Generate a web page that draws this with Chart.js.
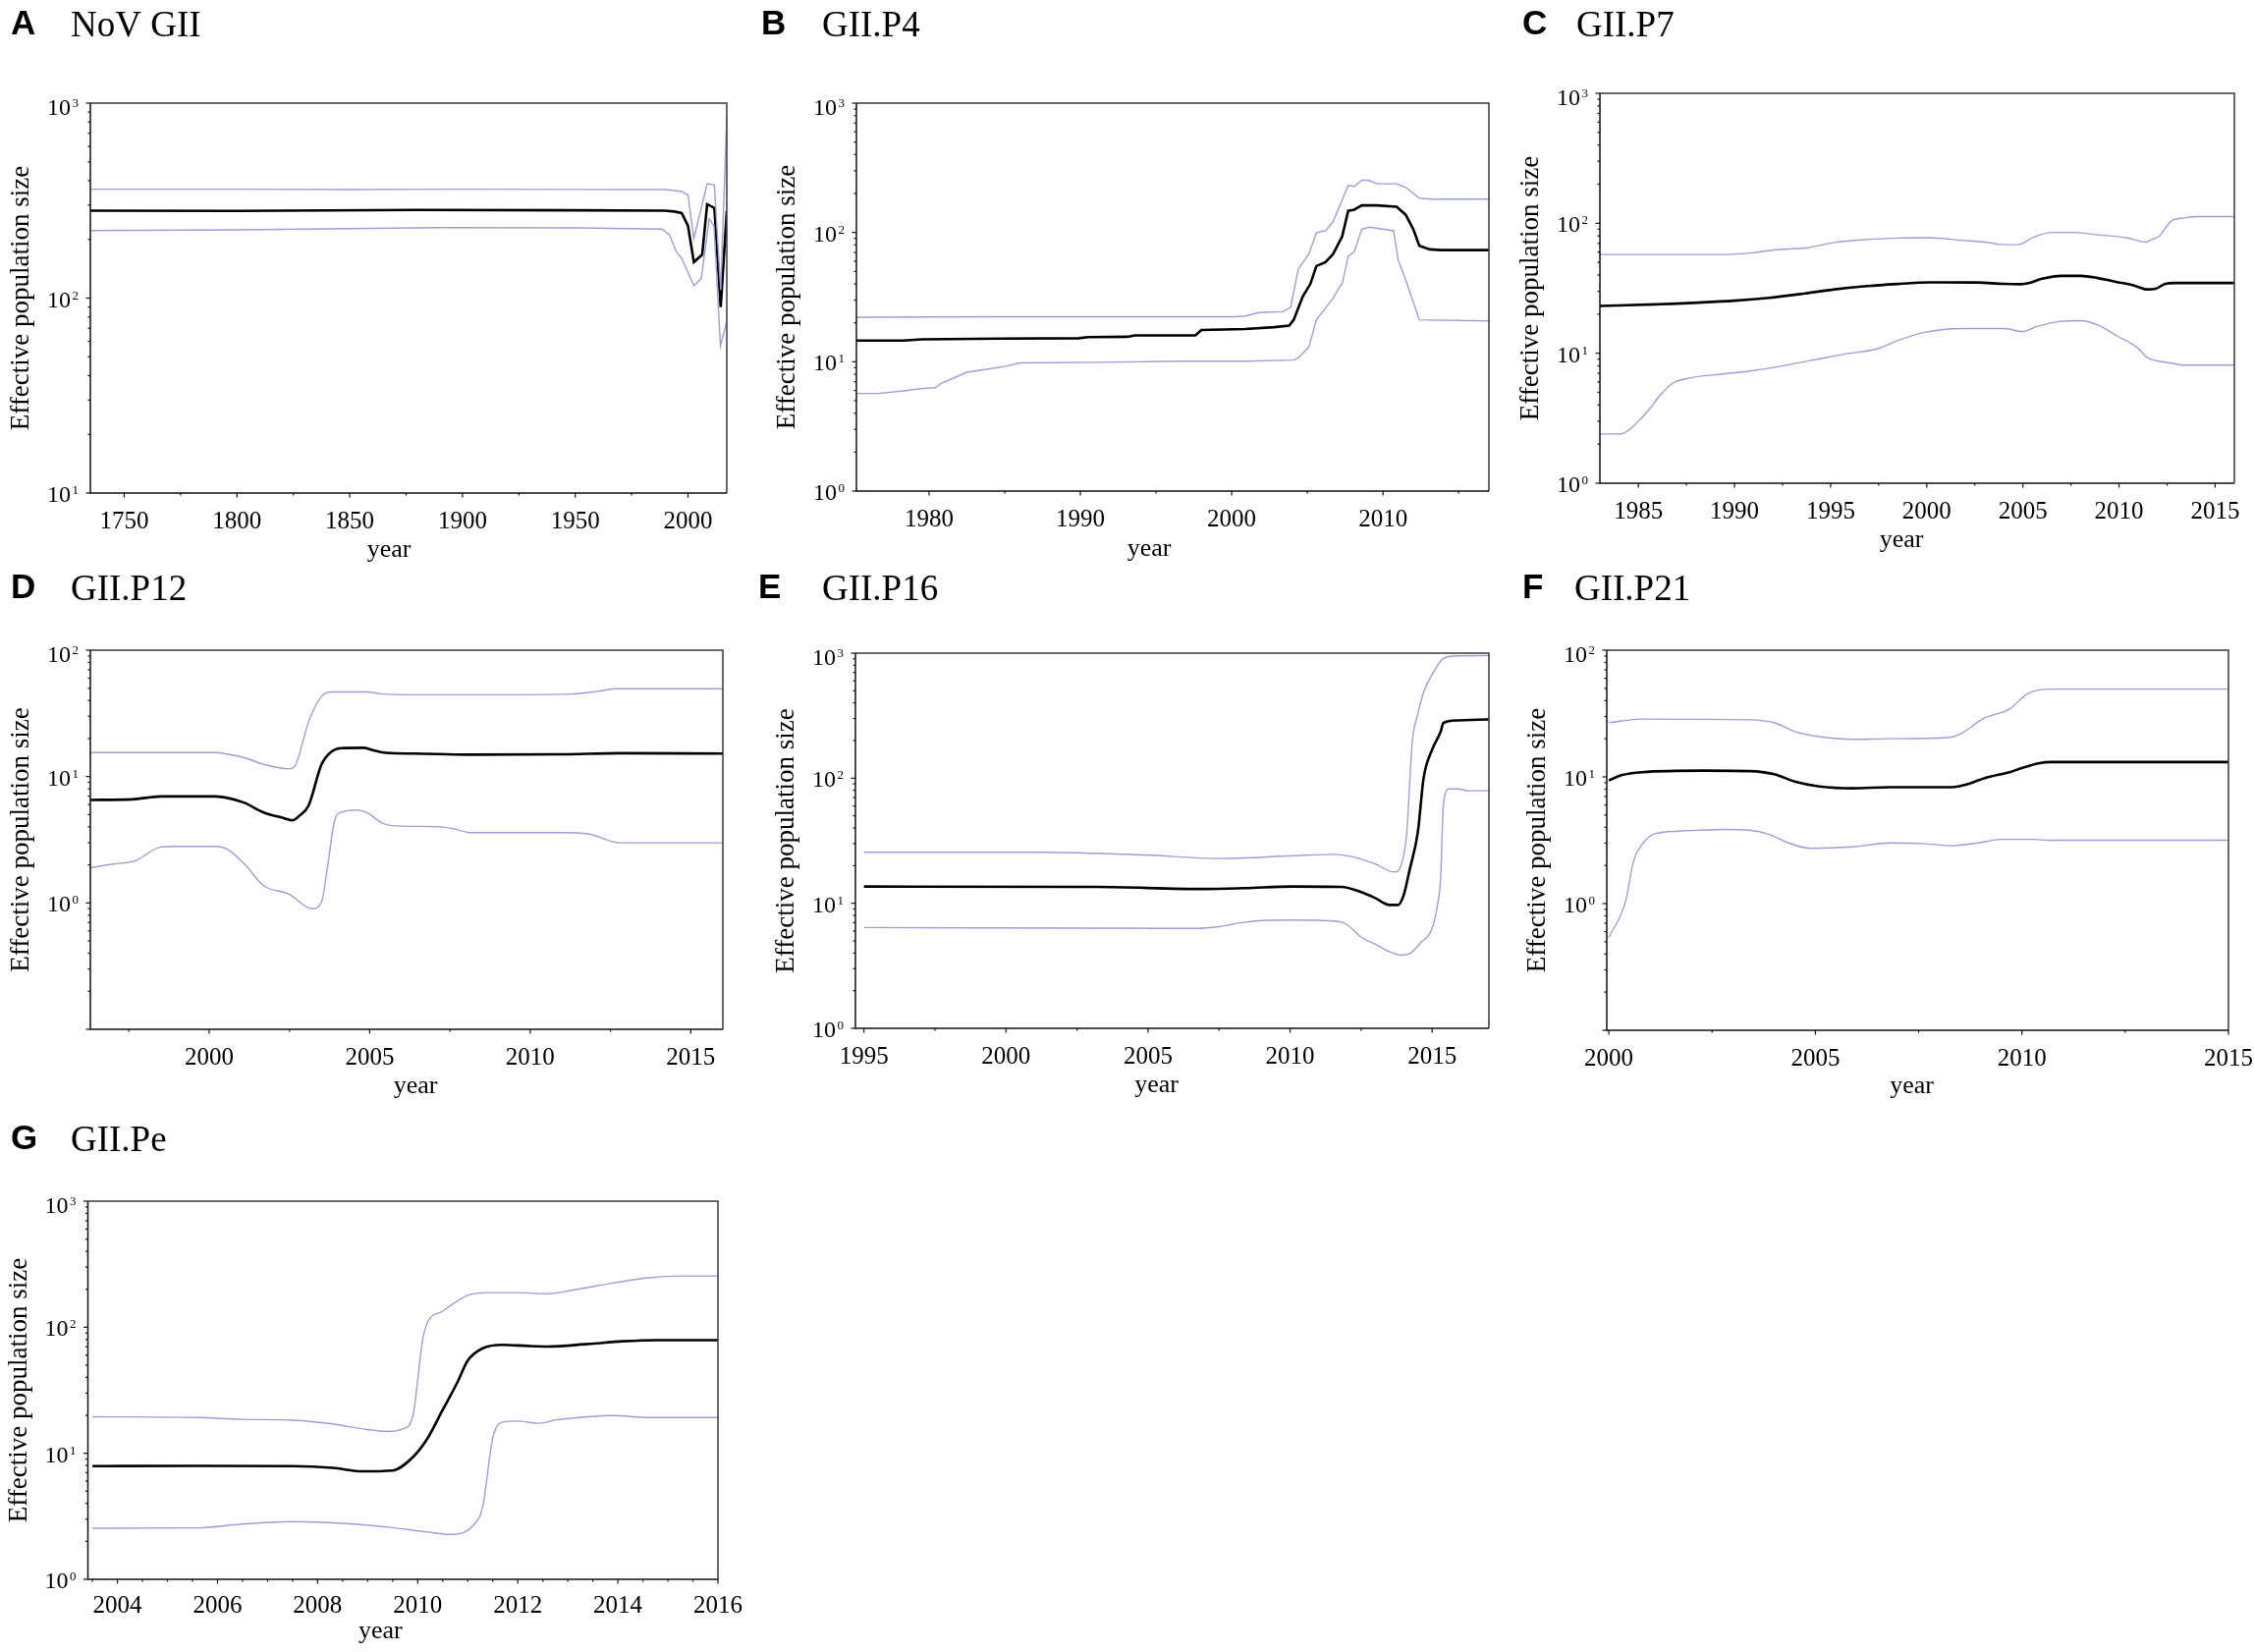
<!DOCTYPE html>
<html><head><meta charset="utf-8">
<script src="https://cdn.jsdelivr.net/npm/chart.js@4.4.1/dist/chart.umd.min.js"></script>
<style>
html,body{margin:0;padding:0;background:#fff;}
body{width:2295px;height:1682px;position:relative;overflow:hidden;}
canvas{position:absolute;}
</style></head>
<body>
<canvas id="cA"></canvas><canvas id="cB"></canvas><canvas id="cC"></canvas>
<canvas id="cD"></canvas><canvas id="cE"></canvas><canvas id="cF"></canvas>
<canvas id="cG"></canvas>
<script>
// ---------- Panel A: NoV GII ----------
const A_meanYears  = [1735, 1800, 1880, 1950, 1989.6, 1994, 1997.2, 2000, 2002.6, 2006.3, 2008.5, 2011.7, 2014.5, 2017.2];
const A_mean       = [281, 280, 283, 282, 281, 278, 273, 235, 153, 167, 303, 290, 90, 279];
const A_upperYears = [1735, 1800, 1850, 1900, 1950, 1990, 1997.2, 2000, 2002.6, 2008.5, 2011.7, 2014.5, 2017.2];
const A_upper      = [362, 362, 360, 362, 361, 360, 352, 337, 202, 386, 380, 110, 850];
const A_lowerYears = [1735, 1800, 1890, 1950, 1988.5, 1991.8, 1995, 1997.2, 2002.6, 2005.9, 2009.4, 2011.5, 2014.4, 2017.2];
const A_lower      = [222, 224, 230, 229, 226, 211, 171, 160, 116, 126, 255, 235, 57, 76];

// ---------- Panel B: GII.P4 ----------
const B_meanYears  = [1975.2, 1978.3, 1979.5, 1984.7, 1989.9, 1990.5, 1993.1, 1993.6, 1997.6, 1998.0, 2000.9, 2002.8, 2003.8, 2004.1, 2004.7, 2005.2, 2005.6, 2006.2, 2006.7, 2007.3, 2007.7, 2008.1, 2008.6, 2009.6, 2010.9, 2011.5, 2012.0, 2012.4, 2013.1, 2013.8, 2017.0];
const B_mean       = [14.6, 14.6, 14.9, 15.1, 15.2, 15.5, 15.6, 16.0, 16.0, 17.6, 17.9, 18.5, 19.0, 21.1, 32, 40, 55, 59, 68, 93, 147, 150, 162, 162, 158, 137, 106, 79, 74, 73, 73];
const B_upperYears = [1975.2, 1984.7, 2000.2, 2000.9, 2001.8, 2003.4, 2003.9, 2004.4, 2005.1, 2005.6, 2006.2, 2006.7, 2007.7, 2008.1, 2008.6, 2009.1, 2009.6, 2010.9, 2011.5, 2012.4, 2013.5, 2014.1, 2017.0];
const B_upper      = [22.1, 22.3, 22.3, 22.6, 24.0, 24.4, 26.5, 52, 68, 99.6, 103, 121, 231, 227, 254, 252, 238, 238, 223, 184, 180, 181, 181];
const B_lowerYears = [1975.2, 1976.6, 1978.3, 1979.5, 1980.4, 1980.8, 1982.5, 1983.7, 1985.0, 1986.0, 1991.2, 1996.7, 2000.9, 2004.1, 2004.4, 2005.1, 2005.6, 2006.7, 2007.2, 2007.3, 2007.7, 2008.1, 2008.6, 2009.1, 2010.7, 2011.0, 2011.5, 2012.4, 2013.1, 2017.0];
const B_lower      = [5.69, 5.69, 5.95, 6.2, 6.3, 6.8, 8.3, 8.7, 9.2, 9.8, 9.9, 10.1, 10.1, 10.3, 10.7, 13.0, 21.1, 31, 39, 40, 65.5, 70.8, 106, 110, 103, 61.6, 43, 21.1, 21, 20.7];

// ---------- Panel C: GII.P7 ----------
const C_meanYears  = [1983.0, 1985.9, 1990.0, 1991.8, 1993.7, 1995.2, 1996.9, 1998.6, 2000.1, 2002.6, 2004.0, 2004.9, 2005.3, 2006.0, 2007.0, 2008.0, 2008.9, 2009.9, 2010.7, 2011.5, 2011.9, 2012.4, 2012.9, 2016.0];
const C_mean       = [23.1, 23.8, 25.4, 26.7, 28.9, 31, 32.9, 34.2, 35.1, 35, 34.2, 34, 34.6, 37.4, 39.4, 39.4, 37.9, 35.3, 33.5, 31, 31.3, 34.2, 34.7, 34.7];
const C_upperYears = [1983.0, 1989.5, 1990.8, 1992.2, 1993.7, 1995.2, 1996.9, 1998.6, 2000.1, 2001.8, 2003.0, 2004.0, 2004.8, 2005.5, 2006.5, 2007.5, 2008.9, 2010.4, 2011.4, 2011.7, 2012.1, 2012.7, 2013.4, 2014.1, 2016.0];
const C_upper      = [57.5, 57.5, 59, 62.6, 64.6, 71.2, 75, 77, 77.4, 74, 71.7, 68.5, 68.8, 77.4, 85, 85, 81.5, 77.4, 71.7, 75, 80, 103.5, 110, 112.5, 112.5];
const C_lowerYears = [1983.0, 1984.1, 1985.0, 1985.6, 1986.1, 1986.8, 1987.8, 1989.3, 1990.8, 1992.2, 1994.2, 1995.7, 1997.4, 1998.6, 1999.9, 2001.8, 2004.0, 2005.0, 2005.7, 2007.0, 2008.0, 2008.9, 2009.9, 2010.9, 2011.5, 2011.9, 2012.7, 2013.4, 2016.0];
const C_lower      = [2.39, 2.4, 2.99, 3.75, 4.7, 5.9, 6.5, 6.9, 7.3, 7.85, 8.93, 9.84, 10.8, 12.7, 14.5, 15.5, 15.5, 14.7, 16, 17.6, 17.8, 16.5, 13.6, 11.2, 9.2, 8.8, 8.4, 8.1, 8.1];

// ---------- Panel D: GII.P12 ----------
const D_meanYears  = [1996.3, 1997.6, 1998.5, 2000.2, 2000.6, 2001.1, 2001.7, 2002.3, 2002.6, 2002.8, 2003.1, 2003.5, 2003.8, 2004.1, 2004.8, 2005.1, 2005.5, 2006.4, 2008.1, 2011.0, 2012.8, 2016.0];
const D_mean       = [6.53, 6.6, 6.97, 6.97, 6.75, 6.2, 5.2, 4.71, 4.5, 4.87, 5.92, 12.5, 15.7, 16.8, 16.9, 16.2, 15.4, 15.2, 14.9, 15, 15.3, 15.2];
const D_upperYears = [1996.3, 2000.2, 2000.6, 2001.1, 2001.7, 2002.5, 2002.7, 2003.1, 2003.5, 2003.8, 2004.9, 2005.4, 2006.4, 2008.7, 2011.3, 2012.1, 2012.7, 2016.0];
const D_upper      = [15.5, 15.5, 15.0, 14.1, 12.5, 11.5, 12.5, 27.2, 43, 46.8, 46.8, 45, 44.4, 44.4, 45, 47.3, 49.5, 49.5];
const D_lowerYears = [1996.3, 1997.0, 1997.7, 1998.5, 1999.0, 2000.2, 2000.6, 2001.1, 2001.7, 2002.5, 2003.2, 2003.5, 2003.7, 2003.9, 2004.1, 2004.6, 2004.9, 2005.4, 2005.7, 2007.2, 2007.8, 2008.1, 2011.0, 2011.8, 2012.8, 2016.0];
const D_lower      = [1.9, 2.03, 2.16, 2.77, 2.8, 2.8, 2.63, 2.03, 1.37, 1.17, 0.9, 1.02, 2.03, 4.42, 5.2, 5.44, 5.2, 4.28, 4.09, 4.0, 3.76, 3.6, 3.6, 3.52, 2.99, 2.99];

// ---------- Panel E: GII.P16 ----------
const E_meanYears  = [1995.0, 2003.2, 2007.0, 2008.4, 2010.1, 2011.8, 2012.5, 2013.0, 2013.5, 2013.8, 2014.0, 2014.2, 2014.5, 2014.7, 2015.0, 2015.3, 2015.4, 2015.9, 2017.0];
const E_mean       = [13.6, 13.5, 13.0, 13.2, 13.6, 13.5, 12.3, 11.0, 9.7, 9.7, 11.6, 18.1, 37.3, 100, 169, 235, 277, 290, 295];
const E_upperYears = [1995.0, 2001.2, 2004.9, 2007.5, 2010.1, 2011.6, 2012.2, 2013.0, 2013.5, 2013.7, 2013.9, 2014.1, 2014.3, 2014.5, 2014.7, 2015.0, 2015.4, 2015.8, 2017.0];
const E_upper      = [25.6, 25.6, 24.3, 22.8, 24.0, 24.6, 23.5, 20.6, 18.1, 17.8, 19.9, 34.9, 193, 327, 485, 674, 906, 948, 955];
const E_lowerYears = [1995.0, 2006.7, 2007.5, 2008.3, 2009.2, 2010.1, 2011.0, 2011.8, 2012.1, 2012.5, 2013.0, 2013.5, 2013.9, 2014.2, 2014.6, 2015.0, 2015.2, 2015.3, 2015.4, 2015.6, 2015.9, 2016.3, 2017.0];
const E_lower      = [6.4, 6.3, 6.5, 7.0, 7.3, 7.35, 7.3, 7.06, 6.5, 5.35, 4.7, 4.1, 3.85, 3.95, 4.85, 6.3, 10, 15.8, 63, 82, 82, 79.4, 79.4];

// ---------- Panel F: GII.P21 ----------
const F_meanYears  = [2000.0, 2000.3, 2000.8, 2002.3, 2003.4, 2004.0, 2004.5, 2005.1, 2005.9, 2006.8, 2008.3, 2008.7, 2009.1, 2009.7, 2010.0, 2010.4, 2010.7, 2015.0];
const F_mean       = [9.38, 10.3, 10.9, 11.2, 11.1, 10.5, 9.2, 8.4, 8.13, 8.3, 8.3, 8.79, 9.8, 10.9, 11.76, 12.8, 13.1, 13.1];
const F_upperYears = [2000.0, 2000.8, 2003.4, 2004.0, 2004.5, 2005.1, 2005.9, 2006.8, 2008.2, 2008.5, 2009.1, 2009.7, 2010.1, 2010.4, 2010.8, 2015.0];
const F_upper      = [26.8, 28.6, 28.2, 26.8, 22.8, 20.8, 19.8, 20, 20.4, 21.8, 29.2, 34.3, 44.5, 48.4, 49.3, 49.3];
const F_lowerYears = [2000.0, 2000.4, 2000.6, 2000.8, 2001.1, 2001.7, 2002.8, 2003.4, 2003.9, 2004.3, 2004.9, 2005.9, 2006.8, 2007.6, 2008.3, 2008.9, 2009.5, 2010.3, 2010.6, 2015.0];
const F_lower      = [0.54, 1.03, 2.18, 2.92, 3.54, 3.73, 3.85, 3.8, 3.5, 3.05, 2.73, 2.8, 3.01, 2.98, 2.86, 3.0, 3.21, 3.21, 3.16, 3.16];

// ---------- Panel G: GII.Pe ----------
const G_meanYears  = [2003.5, 2005.6, 2007.5, 2008.3, 2008.9, 2009.5, 2009.9, 2010.2, 2010.5, 2010.8, 2011.0, 2011.3, 2011.7, 2012.2, 2012.6, 2013.4, 2014.1, 2014.8, 2016.0];
const G_mean       = [7.91, 7.95, 7.91, 7.66, 7.19, 7.3, 9.3, 13.2, 22.1, 37, 54.4, 68.1, 72.6, 71, 70.3, 73.6, 77.4, 79, 79];
const G_upperYears = [2003.5, 2005.6, 2006.5, 2007.5, 2008.3, 2008.9, 2009.4, 2009.7, 2009.9, 2010.1, 2010.2, 2010.5, 2010.8, 2011.0, 2011.4, 2012.0, 2012.6, 2013.1, 2013.9, 2014.6, 2015.3, 2016.0];
const G_upper      = [19.5, 19.2, 18.6, 18.3, 17.1, 15.6, 14.9, 15.6, 19.5, 80, 110, 134, 162, 179, 188, 188, 184.5, 197, 224, 247, 255, 255];
const G_lowerYears = [2003.5, 2005.6, 2006.5, 2007.5, 2008.5, 2009.5, 2010.2, 2010.7, 2010.9, 2011.1, 2011.3, 2011.5, 2011.7, 2012.0, 2012.4, 2012.8, 2013.4, 2013.9, 2014.6, 2015.3, 2016.0];
const G_lower      = [2.54, 2.56, 2.74, 2.87, 2.78, 2.57, 2.37, 2.27, 2.34, 2.66, 3.78, 13.2, 17.7, 18, 17.3, 18.5, 19.5, 19.9, 19.2, 19.2, 19.2];

// ---------- tick labels ----------
const A_xTicks = [1750, 1800, 1850, 1900, 1950, 2000];
const B_xTicks = [1980, 1990, 2000, 2010];
const C_xTicks = [1985, 1990, 1995, 2000, 2005, 2010, 2015];
const D_xTicks = [2000, 2005, 2010, 2015];
const E_xTicks = [1995, 2000, 2005, 2010, 2015];
const F_xTicks = [2000, 2005, 2010, 2015];
const G_xTicks = [2004, 2006, 2008, 2010, 2012, 2014, 2016];
const A_yExp = [1, 2, 3];
const B_yExp = [0, 1, 2, 3];
const C_yExp = [0, 1, 2, 3];
const D_yExp = [0, 1, 2];
const E_yExp = [0, 1, 2, 3];
const F_yExp = [0, 1, 2];
const G_yExp = [0, 1, 2, 3];

const panelLetters = ['A', 'B', 'C', 'D', 'E', 'F', 'G'];
const panelTitles  = ['NoV GII', 'GII.P4', 'GII.P7', 'GII.P12', 'GII.P16', 'GII.P21', 'GII.Pe'];
const xAxisTitle = 'year';
const yAxisTitle = 'Effective population size';

// ---------- layout (absolute page px) ----------
const panels = [
  {id:'cA', canvas:[0,0,770,590],      plot:[92,105,740,502],    x:[1735,2017.2], y:[10,1000],  minor:25,  xt:A_xTicks, ye:A_yExp,
   series:[A_upperYears,A_upper,A_lowerYears,A_lower,A_meanYears,A_mean], smooth:false, letterX:11, titleX:72, titleY:37, yearDx:-20, yearDy:65, tickDy:36},
  {id:'cB', canvas:[770,0,770,590],    plot:[872,105,1516,500],  x:[1975.2,2017.0], y:[1,1000], minor:5,   xt:B_xTicks, ye:B_yExp,
   series:[B_upperYears,B_upper,B_lowerYears,B_lower,B_meanYears,B_mean], smooth:false, letterX:775, titleX:837, titleY:37, yearDx:-24, yearDy:66, tickDy:36},
  {id:'cC', canvas:[1540,0,755,590],   plot:[1629,95,2275,492],  x:[1983.0,2016.0], y:[1,1000], minor:2.5, xt:C_xTicks, ye:C_yExp,
   series:[C_upperYears,C_upper,C_lowerYears,C_lower,C_meanYears,C_mean], smooth:true, letterX:1550, titleX:1605, titleY:37, yearDx:-16, yearDy:65, tickDy:36},
  {id:'cD', canvas:[0,560,770,575],    plot:[92,662,736,1048],   x:[1996.3,2016.0], y:[0.1,100], minor:2.5, xt:D_xTicks, ye:D_yExp,
   series:[D_upperYears,D_upper,D_lowerYears,D_lower,D_meanYears,D_mean], smooth:true, letterX:11, titleX:72, titleY:611, yearDx:9, yearDy:65, tickDy:36},
  {id:'cE', canvas:[770,560,770,575],  plot:[871,665,1516,1047], x:[1994.7,2017.0], y:[1,1000], minor:2.5, xt:E_xTicks, ye:E_yExp,
   series:[E_upperYears,E_upper,E_lowerYears,E_lower,E_meanYears,E_mean], smooth:true, letterX:772, titleX:837, titleY:611, yearDx:-16, yearDy:65, tickDy:36},
  {id:'cF', canvas:[1540,560,755,575], plot:[1636,662,2269,1049],x:[1999.95,2015.0], y:[0.1,100], minor:2.5, xt:F_xTicks, ye:F_yExp,
   series:[F_upperYears,F_upper,F_lowerYears,F_lower,F_meanYears,F_mean], smooth:true, letterX:1550, titleX:1603, titleY:611, yearDx:-6, yearDy:64, tickDy:36},
  {id:'cG', canvas:[0,1120,770,562],   plot:[89.5,1223,731,1608],x:[2003.41,2016.0], y:[1,1000], minor:0.5, xt:G_xTicks, ye:G_yExp,
   series:[G_upperYears,G_upper,G_lowerYears,G_lower,G_meanYears,G_mean], smooth:true, letterX:11, titleX:72, titleY:1172, yearDx:-23, yearDy:60, tickDy:34}
];

const BOUND_COLOR = 'rgb(158,158,214)';
const SERIF = '"Liberation Serif", "Times New Roman", serif';
const SANS = '"Liberation Sans", Arial, sans-serif';

function pts(xs, ys) { return xs.map((x, i) => ({x: x, y: ys[i]})); }

const decor = {
  id: 'decor',
  afterDatasetsDraw(chart, args, opts) {
    const p = opts.panel, ctx = chart.ctx;
    const ox = p.canvas[0], oy = p.canvas[1];
    const xs = chart.scales.x, ys = chart.scales.y;
    const ca = chart.chartArea;
    ctx.save();
    // frame
    ctx.lineWidth = 1.5;
    ctx.strokeStyle = '#3a3a3a';
    ctx.beginPath();
    ctx.moveTo(ca.left, ca.top); ctx.lineTo(ca.right, ca.top); ctx.lineTo(ca.right, ca.bottom);
    ctx.stroke();
    ctx.strokeStyle = '#111';
    ctx.beginPath();
    ctx.moveTo(ca.left, ca.top); ctx.lineTo(ca.left, ca.bottom); ctx.lineTo(ca.right, ca.bottom);
    ctx.stroke();
    // x ticks
    ctx.lineWidth = 1.2;
    const xmin = p.x[0], xmax = p.x[1];
    const start = Math.ceil(xmin / p.minor - 1e-9) * p.minor;
    for (let v = start; v <= xmax + 1e-9; v += p.minor) {
      const isMajor = p.xt.some(t => Math.abs(t - v) < 1e-6);
      const px = xs.getPixelForValue(v);
      ctx.beginPath(); ctx.moveTo(px, ca.bottom); ctx.lineTo(px, ca.bottom + (isMajor ? 4.5 : 2.5)); ctx.stroke();
    }
    // y ticks
    const d0 = Math.round(Math.log10(p.y[0])), d1 = Math.round(Math.log10(p.y[1]));
    for (let d = d0; d <= d1; d++) {
      const py = ys.getPixelForValue(Math.pow(10, d));
      ctx.beginPath(); ctx.moveTo(ca.left, py); ctx.lineTo(ca.left - 4.5, py); ctx.stroke();
      if (d < d1) for (let k = 2; k <= 9; k++) {
        const qy = ys.getPixelForValue(k * Math.pow(10, d));
        ctx.beginPath(); ctx.moveTo(ca.left, qy); ctx.lineTo(ca.left - 2.5, qy); ctx.stroke();
      }
    }
    // x tick labels
    ctx.fillStyle = '#000';
    ctx.font = '25px ' + SERIF;
    ctx.textAlign = 'center'; ctx.textBaseline = 'alphabetic';
    p.xt.forEach(t => ctx.fillText(String(t), xs.getPixelForValue(t), ca.bottom + p.tickDy));
    // y tick labels 10^k
    p.ye.forEach(e => {
      const py = ys.getPixelForValue(Math.pow(10, e));
      const top = (Math.pow(10, e) >= p.y[1] * 0.999) ? 3 : 0;
      ctx.font = '13px ' + SERIF;
      const es = String(e), we = ctx.measureText(es).width;
      const ex = ca.left - 12 - we;
      ctx.textAlign = 'left';
      ctx.fillText(es, ex, py + 1 + top);
      ctx.font = '24px ' + SERIF;
      ctx.textAlign = 'right';
      ctx.fillText('10', ex - 1.5, py + 9 + top);
    });
    // axis titles
    ctx.font = '26px ' + SERIF;
    ctx.textAlign = 'center';
    ctx.fillText(xAxisTitle, (ca.left + ca.right) / 2 + p.yearDx, ca.bottom + p.yearDy);
    ctx.save();
    ctx.font = '27px ' + SERIF;
    ctx.translate(ca.left - 70, (ca.top + ca.bottom) / 2);
    ctx.rotate(-Math.PI / 2);
    ctx.textBaseline = 'middle';
    ctx.fillText(yAxisTitle, 0, 0);
    ctx.restore();
    // panel letter + title
    ctx.textAlign = 'left'; ctx.textBaseline = 'alphabetic';
    ctx.font = 'bold 35px ' + SANS;
    ctx.fillText(opts.letter, p.letterX - ox, p.titleY - oy - 2);
    ctx.font = '37px ' + SERIF;
    ctx.fillText(opts.title, p.titleX - ox, p.titleY - oy);
    ctx.restore();
  }
};

panels.forEach((p, i) => {
  const cv = document.getElementById(p.id);
  const [cx, cy, cw, chh] = p.canvas;
  cv.width = cw; cv.height = chh;
  cv.style.left = cx + 'px'; cv.style.top = cy + 'px';
  cv.style.width = cw + 'px'; cv.style.height = chh + 'px';
  const [L, T, R, B] = p.plot;
  const s = p.series;
  const common = {pointRadius: 0, fill: false, tension: 0, cubicInterpolationMode: p.smooth ? 'monotone' : 'default'};
  new Chart(cv.getContext('2d'), {
    type: 'line',
    data: {datasets: [
      Object.assign({label: 'upper', data: pts(s[0], s[1]), borderColor: BOUND_COLOR, borderWidth: 1.4}, common),
      Object.assign({label: 'lower', data: pts(s[2], s[3]), borderColor: BOUND_COLOR, borderWidth: 1.4}, common),
      Object.assign({label: 'mean',  data: pts(s[4], s[5]), borderColor: '#000', borderWidth: 2.6}, common)
    ]},
    options: {
      responsive: false, animation: false, devicePixelRatio: 1,
      layout: {padding: {left: L - cx, top: T - cy, right: cx + cw - R, bottom: cy + chh - B}},
      plugins: {legend: {display: false}, tooltip: {enabled: false}, title: {display: false},
                decor: {panel: p, letter: panelLetters[i], title: panelTitles[i]}},
      scales: {
        x: {type: 'linear', min: p.x[0], max: p.x[1], display: false},
        y: {type: 'logarithmic', min: p.y[0], max: p.y[1], display: false}
      }
    },
    plugins: [decor]
  });
});
</script>
</body></html>
